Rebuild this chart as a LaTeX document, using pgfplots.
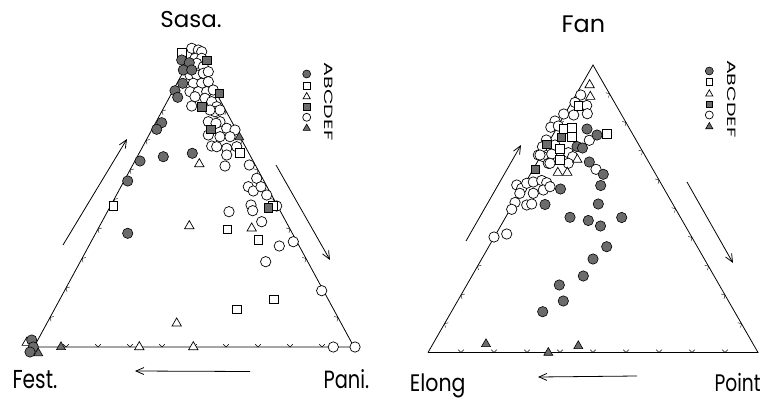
\documentclass[border=0pt]{standalone}
\usepackage{pgfplots}
\pgfplotsset{compat=1.18}
\usepackage{graphicx}
\usetikzlibrary{arrows.meta}
\usepackage{fontspec}
\setmainfont{Poppins}
\newfontfamily\lab{Poppins}[FakeStretch=0.78]
\newfontfamily\tit{Poppins}
\pgfdeclareplotmark{chev}{%
  \pgfpathmoveto{\pgfqpoint{-\pgfplotmarksize}{\pgfplotmarksize}}%
  \pgfpathlineto{\pgfqpoint{0pt}{0pt}}%
  \pgfpathlineto{\pgfqpoint{\pgfplotmarksize}{\pgfplotmarksize}}%
  \pgfusepathqstroke}
\pgfplotsset{
  sA/.style={only marks, mark=*, mark size=5.2pt, mark options={fill=black!58, draw=black, line width=0.6pt}},
  sB/.style={only marks, mark=square*, mark size=4.4pt, mark options={fill=white, draw=black, line width=0.7pt}},
  sC/.style={only marks, mark=triangle*, mark size=5.4pt, mark options={fill=white, draw=black, line width=0.7pt}},
  sD/.style={only marks, mark=square*, mark size=4.2pt, mark options={fill=black!58, draw=black, line width=0.6pt}},
  sE/.style={only marks, mark=*, mark size=5.2pt, mark options={fill=white, draw=black, line width=0.7pt}},
  sF/.style={only marks, mark=triangle*, mark size=5.2pt, mark options={fill=black!58, draw=black, line width=0.6pt}},
  edge/.style={no marks, line width=0.8pt, black},
  tk/.style={only marks, mark=chev, mark size=2.8pt, mark options={line width=0.6pt}},
  arr/.style={no marks, line width=0.8pt, -{Straight Barb[length=8pt,width=7pt]}},
}
\begin{document}
\begin{tikzpicture}
\begin{axis}[scale only axis, width=767bp, height=402bp,
  xmin=0, xmax=767, ymin=0, ymax=402, y dir=reverse,
  hide axis, clip=false]
\addplot[draw=none] coordinates {(0,0) (767,402)};
% ---------- left triangle ----------
\addplot[edge] coordinates {(34,347) (354,347) (194,52) (34,347)};
\addplot[tk] coordinates {(66,347)(98,347)(130,347)(162,347)(194,347)(226,347)(258,347)(290,347)(322,347)};
\addplot[tk, mark options={rotate=-120}] coordinates {(50,317.5)(66,288)(82,258.5)(98,229)(114,199.5)(130,170)(146,140.5)(162,111)(178,81.5)};
\addplot[tk, mark options={rotate=120}] coordinates {(338,317.5)(322,288)(306,258.5)(290,229)(274,199.5)(258,170)(242,140.5)(226,111)(210,81.5)};
\addplot[arr] coordinates {(63,245) (127,139)};
\addplot[arr] coordinates {(276,165) (330,260)};
\addplot[arr] coordinates {(250,371.5) (135,371)};
% E open circles
\addplot[sE] coordinates {
(191.7,48.3)(198.3,50)(201.7,51.7)(195,58.3)(201.7,58.3)(196.7,63.3)(203.3,66.7)
(190,75)(196.7,75)(203.3,73.3)(208.3,71.7)(193.3,83.3)(201.7,83.3)(208.3,81.7)
(190,91.7)(198.3,91.7)(206.7,91.7)(213.3,90)(195,96.7)(205,98.3)(211.7,101.7)
(191.7,106)(216.7,106.7)(215,111.7)(220,110)(210,110)(208.3,121.7)(220,121.7)(216,123.3)
(226.7,128.3)(235,130)(208.3,135)(220,136.7)(230,136.7)(211.7,146)(216.7,146.7)
(226.7,148.3)(236.7,146.7)(226.7,155)(225,166)(249.3,165)(256.7,178.3)(248.3,186.7)
(253.3,191)(261,186.7)(266.7,195)(251,205)(252.7,210.7)(276.7,206)(229,211.7)
(261.7,221.7)(279.3,246)(293.3,241.7)(265.7,261.7)(321.7,290.7)(333.3,347)(355,347)};
% B open squares
\addplot[sB] coordinates {(181.7,52.7)(240,152.7)(272.7,206)(227.3,229.3)(258.3,240)(274,299.3)(236.7,309.3)(113.3,206)};
% C open triangles
\addplot[sC] coordinates {(199.3,164)(189.3,226)(251.7,228.3)(176.7,323.3)(139.3,347)(193.3,347)(26.7,342.7)};
% A dark circles
\addplot[sA] coordinates {(181.7,60)(189.3,62.7)(183.3,70)(191.7,70)(182.7,83.3)(175,90.7)(177.7,97.3)
(161.7,122.7)(156.7,129.3)(140,161)(127.7,181)(163.3,156.7)(192.3,153.3)(127.7,233.3)
(31.7,340)(33.3,347)(30,352)};
% D dark squares
\addplot[sD] coordinates {(206.7,60)(219,93.3)(201.7,106.7)(210.7,129.3)(268.3,207.7)};
% F dark triangles
\addplot[sF] coordinates {(239.3,137.3)(61,347)(38.3,353.3)};
% legend left
\addplot[sA, mark size=4pt] coordinates {(306.7,74)};
\addplot[sB, mark size=3.4pt] coordinates {(306.7,85.7)};
\addplot[sC, mark size=4.2pt] coordinates {(306.7,96.7)};
\addplot[sD, mark size=3.4pt] coordinates {(306.7,106.7)};
\addplot[sE, mark size=4pt] coordinates {(306.7,117.3)};
\addplot[sF, mark size=4.2pt] coordinates {(306.7,128.3)};
\node[rotate=-90, font=\tit\fontsize{12}{12}\selectfont] at (axis cs:329,101.5) {\scalebox{1.72}[1]{ABCDEF}};
\node[anchor=base, font=\tit\fontsize{23}{23}\selectfont] at (axis cs:191,27.3) {Sasa.};
\node[anchor=base west, font=\lab\fontsize{26}{26}\selectfont] at (axis cs:9,388.5) {Fest.};
\node[anchor=base west, font=\lab\fontsize{25}{25}\selectfont] at (axis cs:320,388.5) {Pani.};
% ---------- right triangle ----------
\addplot[edge] coordinates {(428,352.5) (758,352.5) (593,65) (428,352.5)};
\addplot[tk] coordinates {(461,352.5)(494,352.5)(527,352.5)(560,352.5)(593,352.5)(626,352.5)(659,352.5)(692,352.5)(725,352.5)};
\addplot[tk, mark options={rotate=-120}] coordinates {(444.5,323.75)(461,295)(477.5,266.25)(494,237.5)(510.5,208.75)(527,180)(543.5,151.25)(560,122.5)(576.5,93.75)};
\addplot[tk, mark options={rotate=120}] coordinates {(741.5,323.75)(725,295)(708.5,266.25)(692,237.5)(675.5,208.75)(659,180)(642.5,151.25)(626,122.5)(609.5,93.75)};
\addplot[arr] coordinates {(466,241) (521,145)};
\addplot[arr] coordinates {(687,182) (733,263)};
\addplot[arr] coordinates {(637,376) (538,377)};
\addplot[sE] coordinates {
(580.7,95)(575,102.5)(586.7,105.5)(563.7,114)(573.7,115)(587.3,113.7)(555,121)
(550.8,127.2)(558.3,126)(546.3,140)(542.5,146.7)(589.3,140.3)(538.3,155)(543.3,156.7)
(551.7,154)(568.3,152.7)(572.7,156.7)(548.3,163.3)(568.3,163.3)(550,163.3)(596,169.3)
(516.7,185)(521.7,188.3)(526.7,183.3)(533.3,182)(541.7,180.5)(546.7,182.7)(519.8,193.3)
(533.3,193.3)(543.3,190)(550,186.7)(515,202.5)(526.7,205)(531.7,204)(511.7,209.3)
(506.7,234)(494,237)(540,155)(555,145)};
\addplot[sB] coordinates {(578.3,105.5)(563.3,128.5)(571.7,128)(571.5,137)(560,149)(560,160)(607,133.7)};
\addplot[sC] coordinates {(589.6,85)(590.3,96.7)(577.3,159.6)(557.8,172.7)(567.3,172.7)};
\addplot[sA] coordinates {(587,129)(597,135)(577,146.5)(582.5,148)(589.3,162)(603.3,174.3)(600.7,185.5)
(560.5,189)(545,204.5)(598.3,204)(570,217.3)(588.3,220.5)(600.5,226)(621.7,217.5)
(606.7,246.7)(593,259)(583.3,276)(559.3,285)(563.3,301)(542.7,311.7)};
\addplot[sD] coordinates {(546.7,144.5)(535,169.3)(561,137)};
\addplot[sF] coordinates {(486,344)(548.3,352.7)(578.3,346)};
% legend right
\addplot[sA, mark size=4pt] coordinates {(709.3,71)};
\addplot[sB, mark size=3.4pt] coordinates {(709.3,81.7)};
\addplot[sC, mark size=4.2pt] coordinates {(709.3,94)};
\addplot[sD, mark size=3.4pt] coordinates {(709.3,104.3)};
\addplot[sE, mark size=4pt] coordinates {(709.3,115)};
\addplot[sF, mark size=4.2pt] coordinates {(709.3,126.7)};
\node[rotate=-90, font=\tit\fontsize{12}{12}\selectfont] at (axis cs:731.7,99) {\scalebox{1.72}[1]{ABCDEF}};
\node[anchor=base, font=\tit\fontsize{24}{24}\selectfont] at (axis cs:583.3,32) {Fan};
\node[anchor=base west, font=\lab\fontsize{24}{24}\selectfont, xscale=1.1] at (axis cs:406,391) {Elong};
\node[anchor=base west, font=\lab\fontsize{24}{24}\selectfont] at (axis cs:711,391) {Point};
\end{axis}
\end{tikzpicture}
\end{document}
